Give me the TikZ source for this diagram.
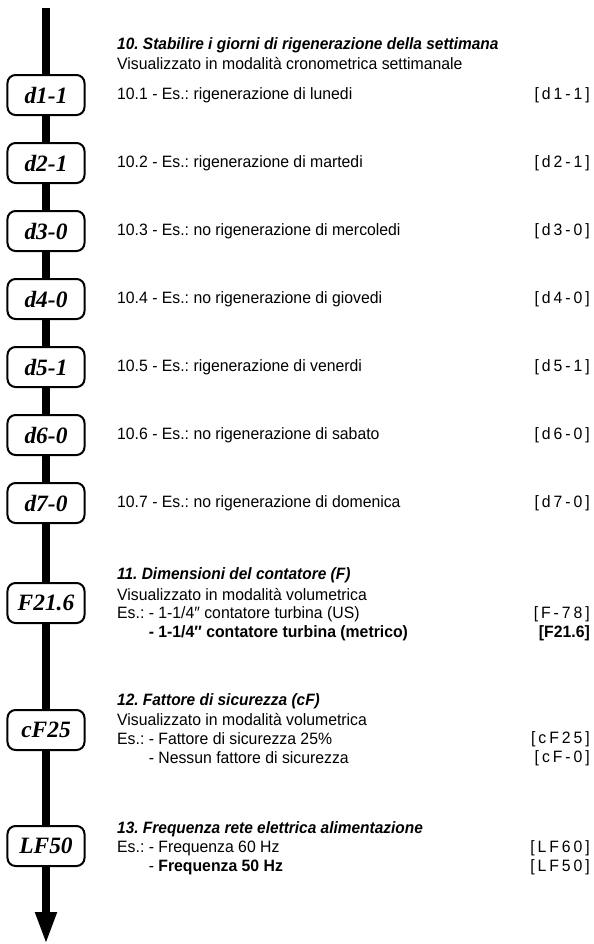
\documentclass[tikz,border=0pt]{standalone}
\usepackage{fontspec}
\setmainfont{Liberation Sans}[FakeStretch=0.96]
\newfontfamily\dispfont{Liberation Serif}
\newfontfamily\codefont{Liberation Sans}[FakeStretch=0.96,LetterSpace=18]
\newfontfamily\headfont{Liberation Sans}[FakeStretch=0.94]
\usetikzlibrary{arrows.meta}
\frenchspacing
\tikzset{
  disp/.style={draw, line width=2bp, rounded corners=8bp, fill=white,
    minimum width=77bp, minimum height=40bp, inner sep=0pt,
    font=\dispfont\bfseries\itshape\fontsize{23.5}{24}\selectfont},
  txt/.style={anchor=west, inner sep=0pt, font=\fontsize{16.5}{19}\selectfont},
  hd/.style={txt, font=\headfont\fontsize{16.5}{19}\selectfont\bfseries\itshape},
  code/.style={anchor=east, inner sep=0pt, font=\codefont\fontsize{16.5}{19}\selectfont},
  bcode/.style={anchor=east, inner sep=0pt, font=\fontsize{16.5}{19}\selectfont\bfseries},
  flow/.style={line width=7.5bp},
}
\begin{document}
\begin{tikzpicture}[x=1bp,y=-1bp]
\useasboundingbox (0,0) rectangle (594,944);
% main flow line and display boxes
\coordinate (top) at (46,8);
\coordinate (bottom) at (46,944);
\node[disp] (b1) at (46,95) {d1-1};
\node[disp] (b2) at (46,163) {d2-1};
\node[disp] (b3) at (46,231) {d3-0};
\node[disp] (b4) at (46,299) {d4-0};
\node[disp] (b5) at (46,367) {d5-1};
\node[disp] (b6) at (46,435) {d6-0};
\node[disp] (b7) at (46,503) {d7-0};
\node[disp] (b8) at (46,603) {F21.6};
\node[disp] (b9) at (46,730) {cF25};
\node[disp] (b10) at (46,846) {LF50};
\draw[flow] (top) -- (b1.north);
\foreach \a/\b in {b1/b2,b2/b3,b3/b4,b4/b5,b5/b6,b6/b7,b7/b8,b8/b9,b9/b10}
  \draw[flow] (\a.south) -- (\b.north);
\draw[flow, -{Triangle[width=20bp,length=32bp]}] (b10.south) -- (bottom);
% section 10
\node[hd] (t10) at (117,45) {10. Stabilire i giorni di rigenerazione della settimana};
\node[txt] (s10) at (117,64) {Visualizzato in modalità cronometrica settimanale};
\node[txt] (r1) at (117,95) {10.1 - Es.: rigenerazione di lunedi};
\node[txt] (r2) at (117,163) {10.2 - Es.: rigenerazione di martedi};
\node[txt] (r3) at (117,231) {10.3 - Es.: no rigenerazione di mercoledi};
\node[txt] (r4) at (117,299) {10.4 - Es.: no rigenerazione di giovedi};
\node[txt] (r5) at (117,367) {10.5 - Es.: rigenerazione di venerdi};
\node[txt] (r6) at (117,435) {10.6 - Es.: no rigenerazione di sabato};
\node[txt] (r7) at (117,503) {10.7 - Es.: no rigenerazione di domenica};
\node[code] (c1) at (590,95) {[d1-1]};
\node[code] (c2) at (590,163) {[d2-1]};
\node[code] (c3) at (590,231) {[d3-0]};
\node[code] (c4) at (590,299) {[d4-0]};
\node[code] (c5) at (590,367) {[d5-1]};
\node[code] (c6) at (590,435) {[d6-0]};
\node[code] (c7) at (590,503) {[d7-0]};
% section 11
\node[hd] (t11) at (117,575) {11. Dimensioni del contatore (F)};
\node[txt] (s11) at (117,595) {Visualizzato in modalità volumetrica};
\node[txt] (e11a) at (117,614) {Es.: - 1-1/4″ contatore turbina (US)};
\node[txt] (e11b) at (117,633) {\phantom{Es.: }\bfseries - 1-1/4″ contatore turbina (metrico)};
\node[code] (c11a) at (590,614) {[F-78]};
\node[bcode] (c11b) at (590,633) {[F21.6]};
% section 12
\node[hd] (t12) at (117,701) {12. Fattore di sicurezza (cF)};
\node[txt] (s12) at (117,720) {Visualizzato in modalità volumetrica};
\node[txt] (e12a) at (117,739) {Es.: - Fattore di sicurezza 25\%};
\node[txt] (e12b) at (117,758) {\phantom{Es.: }- Nessun fattore di sicurezza};
\node[code] (c12a) at (590,739) {[cF25]};
\node[code] (c12b) at (590,758) {[cF-0]};
% section 13
\node[hd] (t13) at (117,829) {13. Frequenza rete elettrica alimentazione};
\node[txt] (e13a) at (117,848) {Es.: - Frequenza 60 Hz};
\node[txt] (e13b) at (117,867) {\phantom{Es.: }- \textbf{Frequenza 50 Hz}};
\node[code] (c13a) at (590,848) {[LF60]};
\node[code] (c13b) at (590,867) {[LF50]};
\end{tikzpicture}
\end{document}
